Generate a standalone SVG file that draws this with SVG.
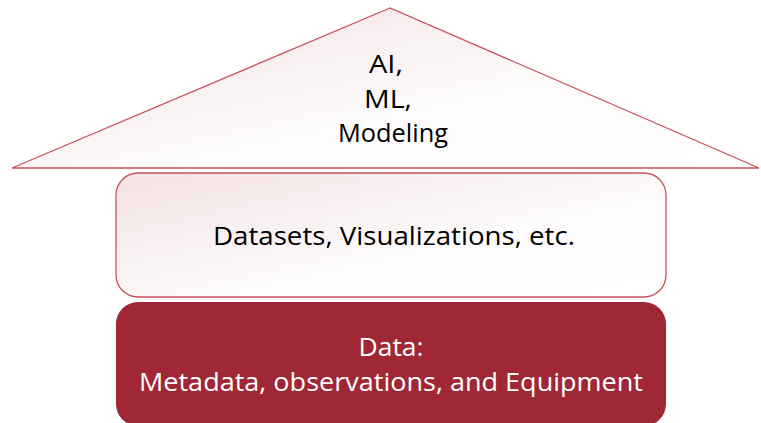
<svg xmlns="http://www.w3.org/2000/svg" width="761" height="423" viewBox="0 0 761 423">
<defs>
<linearGradient id="g1" x1="0" y1="0" x2="1" y2="1">
<stop offset="0" stop-color="#f3e1e3"/>
<stop offset="0.6" stop-color="#fdfbfb"/>
<stop offset="1" stop-color="#ffffff"/>
</linearGradient>
<style>
.lt{fill:url(#g1);stroke:#c9515c;stroke-width:1.3}
.t{font-family:"Open Sans","Liberation Sans",sans-serif;font-size:26px;text-anchor:middle;fill:#000}
.w{fill:#fff}
</style>
</defs>
<rect width="761" height="423" fill="#fff"/>
<g id="roof">
<polygon class="lt" points="390,8 12,168 759,168"/>
<text class="t" x="386" y="73" textLength="34" lengthAdjust="spacingAndGlyphs">AI,</text>
<text class="t" x="388" y="108" textLength="48" lengthAdjust="spacingAndGlyphs">ML,</text>
<text class="t" x="393" y="142" textLength="110" lengthAdjust="spacingAndGlyphs">Modeling</text>
</g>
<g id="middle">
<rect class="lt" x="116" y="173" width="550" height="124" rx="22"/>
<text class="t" x="394" y="245" textLength="362" lengthAdjust="spacingAndGlyphs">Datasets, Visualizations, etc.</text>
</g>
<g id="base">
<rect x="116" y="302" width="550" height="124" rx="22" fill="#a02735"/>
<text class="t w" x="391" y="356" textLength="65" lengthAdjust="spacingAndGlyphs">Data:</text>
<text class="t w" x="391" y="391" textLength="504" lengthAdjust="spacingAndGlyphs">Metadata, observations, and Equipment</text>
</g>
<g id="connectors"/>
</svg>
